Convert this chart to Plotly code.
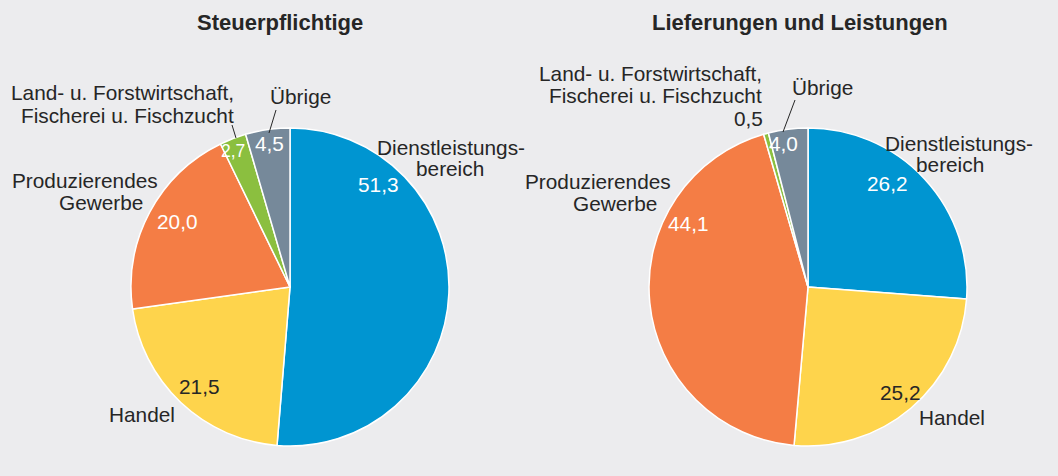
import plotly.graph_objects as go

W, H = 1058, 476

categories = ["Dienstleistungsbereich", "Handel", "Produzierendes Gewerbe",
              "Land- u. Forstwirtschaft, Fischerei u. Fischzucht", "Übrige"]
steuerpflichtige = [51.3, 21.5, 20.0, 2.7, 4.5]
lieferungen = [26.2, 25.2, 44.1, 0.5, 4.0]
titles = ["Steuerpflichtige", "Lieferungen und Leistungen"]
colors = ["#0095d1", "#fed44c", "#f47d45", "#8bbf3f", "#76899a"]

BG = "#ececee"
DARK = "#262626"
FONT = "Liberation Sans, Arial, Helvetica, sans-serif"
LS = 20.8  # label font size


def fmt(v):
    return f"{v:.1f}".replace(".", ",")


def px(x, y):
    return x / W, 1 - y / H


def pie_domain(cx, cy, r):
    return dict(x=[(cx - r) / W, (cx + r) / W], y=[1 - (cy + r) / H, 1 - (cy - r) / H])


fig = go.Figure()
centers = [(290, 287), (808, 287)]
R = 159
for vals, (cx, cy), name in zip([steuerpflichtige, lieferungen], centers, titles):
    fig.add_trace(go.Pie(
        labels=categories, values=vals, name=name,
        sort=False, direction="clockwise", rotation=0,
        marker=dict(colors=colors, line=dict(color="white", width=1.5)),
        textinfo="none", hoverinfo="label+value",
        domain=pie_domain(cx, cy, R), showlegend=False,
    ))

ann = []


def text(x, y, s, color=DARK, size=LS, xanchor="center", bold=False):
    ax, ay = px(x, y)
    ann.append(dict(x=ax, y=ay, xref="paper", yref="paper", text=(f"<b>{s}</b>" if bold else s),
                    showarrow=False, xanchor=xanchor, yanchor="middle",
                    font=dict(family=FONT, size=size, color=color)))


# titles
text(280, 22, titles[0], size=22, bold=True)
text(800, 22, titles[1], size=22, bold=True)

# value label positions (pixel) per pie, in category order
val_pos = [
    [(378, 185), (199, 386), (177, 221), (233, 151), (269, 143)],
    [(887, 184), (900, 392), (688, 223), (765, 118), (783, 143)],
]
val_col = [
    ["white", DARK, "white", "white", "white"],
    ["white", DARK, "white", DARK, "white"],
]
val_size = [[LS, LS, LS, 17.5, LS], [LS, LS, LS, LS, LS]]
for k, vals in enumerate([steuerpflichtige, lieferungen]):
    for i, v in enumerate(vals):
        x, y = val_pos[k][i]
        xa = "center"
        if k == 1 and i == 3:
            xa = "right"
        text(x, y, fmt(v), color=val_col[k][i], size=val_size[k][i], xanchor=xa)

# category labels
# pie 1
text(451, 147, "Dienstleistungs-")
text(450, 168, "bereich")
text(85, 180, "Produzierendes")
text(101, 202, "Gewerbe")
text(142, 414, "Handel")
text(236, 93, "Land- u. Forstwirtschaft,", xanchor="right")
text(236, 115, "Fischerei u. Fischzucht", xanchor="right")
text(300, 97, "Übrige")
# pie 2
text(959, 143, "Dienstleistungs-")
text(950, 164, "bereich")
text(598, 181, "Produzierendes")
text(615, 203, "Gewerbe")
text(952, 417, "Handel")
text(764, 73, "Land- u. Forstwirtschaft,", xanchor="right")
text(764, 96, "Fischerei u. Fischzucht", xanchor="right")
text(822, 87, "Übrige")

shapes = []
for (x0, y0, x1, y1) in [(232, 125, 236, 138), (276, 110, 269, 133), (795, 100, 783, 132)]:
    a0, b0 = px(x0, y0)
    a1, b1 = px(x1, y1)
    shapes.append(dict(type="line", xref="paper", yref="paper", x0=a0, y0=b0, x1=a1, y1=b1,
                       line=dict(color=DARK, width=1)))

fig.update_layout(
    width=W, height=H,
    margin=dict(l=0, r=0, t=0, b=0),
    paper_bgcolor=BG, plot_bgcolor=BG,
    annotations=ann, shapes=shapes,
    font=dict(family=FONT, color=DARK),
)

fig.write_html("out.html", config={"displayModeBar": False},
               post_script="document.body.style.margin='0';document.body.style.background='%s';" % BG)
